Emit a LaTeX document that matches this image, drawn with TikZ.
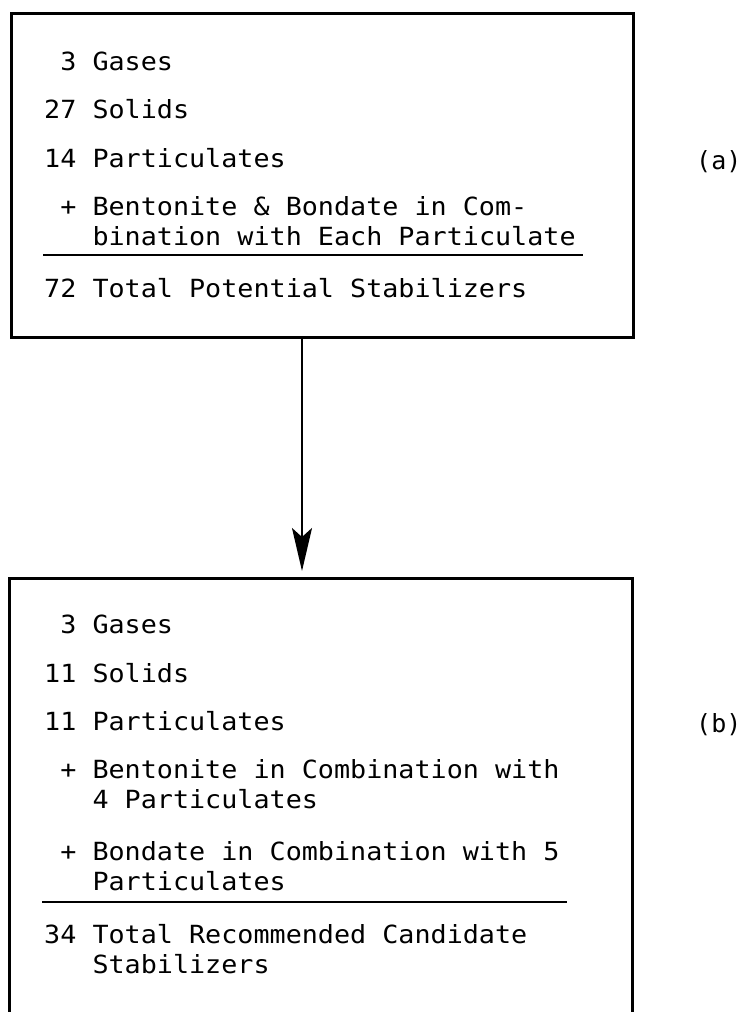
\documentclass[tikz,border=0pt]{standalone}
\usepackage{fontspec}
\newfontfamily\listfont[FakeStretch=1.07]{DejaVu Sans Mono}
\newfontfamily\tagfont{DejaVu Sans Mono}
\usetikzlibrary{arrows.meta, positioning}

\begin{document}
\begin{tikzpicture}[
  x=1pt, y=1pt,
  panel/.style={draw, line width=2.6pt, anchor=north west, inner sep=0pt},
  entry/.style={inner sep=0pt, font=\listfont\fontsize{25}{30}\selectfont},
  tag/.style={inner sep=0pt, anchor=base west, font=\tagfont\fontsize{25}{30}\selectfont},
  rule/.style={line width=2pt},
  arr/.style={-{Stealth[length=43pt, width=20pt, inset=9pt]}, line width=2pt, shorten >=6pt}
]
  \useasboundingbox (0,0) rectangle (745,-1012);
  \clip (0,0) rectangle (745,-1012);

  % the two boxes, the lower one runs off the page
  \node[panel, minimum width=622pt, minimum height=324pt] (potential) at (10,-12) {};
  \node[panel, minimum width=623pt, minimum height=470pt] (candidate) at (8,-577) {};

  \coordinate (drop) at (302,0);
  \draw[arr] (potential.south -| drop) -- (candidate.north -| drop);

  % (a) all potential stabilizers
  \node[entry, anchor=base west] (gasA) at (44,-70) {~3 Gases};
  \node[entry, below=48pt of gasA.base west, anchor=base west] (solA) {27 Solids};
  \node[entry, below=49pt of solA.base west, anchor=base west] (partA) {14 Particulates};
  \node[entry, below=48pt of partA.base west, anchor=base west] (combA) {~+ Bentonite \& Bondate in Com-};
  \node[entry, below=30pt of combA.base west, anchor=base west] (combAb) {~~~bination with Each Particulate};
  \node[entry, below=52pt of combAb.base west, anchor=base west] (totalA) {72 Total Potential Stabilizers};
  \draw[rule] ([xshift=-1pt, yshift=-10pt]combAb.base west) -- ++(540,0);
  \node[tag] (tagA) at (696,-169) {(a)};

  % (b) recommended candidates
  \node[entry, anchor=base west] (gasB) at (44,-633) {~3 Gases};
  \node[entry, below=49pt of gasB.base west, anchor=base west] (solB) {11 Solids};
  \node[entry, below=48pt of solB.base west, anchor=base west] (partB) {11 Particulates};
  \node[entry, below=48pt of partB.base west, anchor=base west] (bentB) {~+ Bentonite in Combination with};
  \node[entry, below=30pt of bentB.base west, anchor=base west] (bentBb) {~~~4 Particulates};
  \node[entry, below=52pt of bentBb.base west, anchor=base west] (bondB) {~+ Bondate in Combination with 5};
  \node[entry, below=30pt of bondB.base west, anchor=base west] (bondBb) {~~~Particulates};
  \node[entry, below=53pt of bondBb.base west, anchor=base west] (totalB) {34 Total Recommended Candidate};
  \node[entry, below=30pt of totalB.base west, anchor=base west] (totalBb) {~~~Stabilizers};
  \draw[rule] ([xshift=-2pt, yshift=-12pt]bondBb.base west) -- ++(525,0);
  \node[tag] (tagB) at (696,-732) {(b)};
\end{tikzpicture}
\end{document}
